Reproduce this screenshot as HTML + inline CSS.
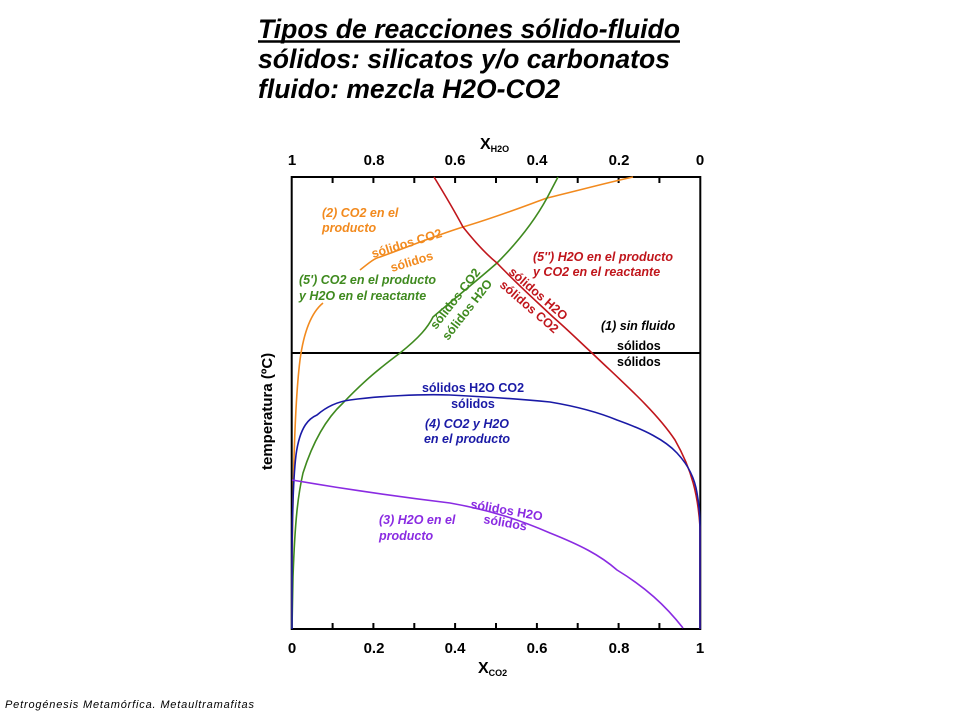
<!DOCTYPE html>
<html><head><meta charset="utf-8"><style>html,body{margin:0;padding:0;background:#fff}svg{display:block}</style></head>
<body>
<svg width="960" height="720" viewBox="0 0 960 720" xmlns="http://www.w3.org/2000/svg" font-family="Liberation Sans, Arial, sans-serif">
<g font-weight="bold" font-style="italic" font-size="27" fill="#000">
<text x="258" y="38" textLength="422" lengthAdjust="spacingAndGlyphs">Tipos de reacciones sólido-fluido</text>
<line x1="258" y1="41.5" x2="680" y2="41.5" stroke="#000" stroke-width="2.5"/>
<text x="258" y="68" textLength="412" lengthAdjust="spacingAndGlyphs">sólidos: silicatos y/o carbonatos</text>
<text x="258" y="98" textLength="302" lengthAdjust="spacingAndGlyphs">fluido: mezcla H2O-CO2</text>
</g>
<rect x="291.7" y="177" width="408.6" height="452" fill="none" stroke="#000" stroke-width="2"/>
<g stroke="#000" stroke-width="2">
<line x1="332.6" y1="177" x2="332.6" y2="183"/><line x1="373.4" y1="177" x2="373.4" y2="183"/><line x1="414.3" y1="177" x2="414.3" y2="183"/><line x1="455.1" y1="177" x2="455.1" y2="183"/><line x1="496" y1="177" x2="496" y2="183"/><line x1="536.9" y1="177" x2="536.9" y2="183"/><line x1="577.7" y1="177" x2="577.7" y2="183"/><line x1="618.6" y1="177" x2="618.6" y2="183"/><line x1="659.4" y1="177" x2="659.4" y2="183"/>
<line x1="332.6" y1="629" x2="332.6" y2="623"/><line x1="373.4" y1="629" x2="373.4" y2="623"/><line x1="414.3" y1="629" x2="414.3" y2="623"/><line x1="455.1" y1="629" x2="455.1" y2="623"/><line x1="496" y1="629" x2="496" y2="623"/><line x1="536.9" y1="629" x2="536.9" y2="623"/><line x1="577.7" y1="629" x2="577.7" y2="623"/><line x1="618.6" y1="629" x2="618.6" y2="623"/><line x1="659.4" y1="629" x2="659.4" y2="623"/>
<line x1="291.7" y1="353" x2="700.3" y2="353"/>
</g>
<g font-weight="bold" font-size="15" text-anchor="middle" fill="#000">
<text x="292" y="165">1</text><text x="374" y="165">0.8</text><text x="455" y="165">0.6</text><text x="537" y="165">0.4</text><text x="619" y="165">0.2</text><text x="700" y="165">0</text>
<text x="292" y="653">0</text><text x="374" y="653">0.2</text><text x="455" y="653">0.4</text><text x="537" y="653">0.6</text><text x="619" y="653">0.8</text><text x="700" y="653">1</text>
</g>
<g font-weight="bold" fill="#000">
<text x="480" y="149" font-size="16">X<tspan font-size="9" dy="3">H2O</tspan></text>
<text x="478" y="673" font-size="16">X<tspan font-size="9" dy="3">CO2</tspan></text>
<text transform="translate(272,470) rotate(-90)" font-size="15">temperatura (ºC)</text>
</g>
<g fill="none" stroke-width="1.6">
<path d="M292,628 C292,600 292,590 292,575 C293,470 295,400 300,360 C304,330 312,312 323,303" stroke="#f28a1e"/>
<path d="M360,270 C370,262 375,258 380,257 C410,246 440,234 463,227 C500,216 530,204 547,198 C580,190 610,182 633,177" stroke="#f28a1e"/>
<path d="M292,628 L293,577 C295,520 298,495 303,473 C315,435 330,415 343,403 C365,380 380,368 400,353 C420,337 428,327 433,317 C460,294 480,278 497,263 C520,240 535,220 547,198 L558,177" stroke="#3f8a1f"/>
<path d="M434,177 C445,195 455,212 463,227 C475,242 487,255 497,263 C515,282 535,300 553,317 C568,330 580,342 592,353 C620,380 655,410 675,440 C692,470 698,495 700,527 L700,629" stroke="#c0161c"/>
<path d="M292,629 L292,573 C292,520 293,480 296,455 C300,425 310,418 317,415 C325,408 335,402 350,400 C380,396 420,394 450,395 C490,397 520,399 550,402 C580,407 600,413 617,420 C645,430 665,440 677,453 C690,467 695,480 697,493 C700,510 700,520 700,533 L700,629" stroke="#1a1aa6"/>
<path d="M292,480 C350,490 400,497 450,503 C490,510 520,520 550,533 C580,545 600,555 617,570 C645,587 665,605 683,628" stroke="#8a2be2"/>
</g>
<g font-weight="bold" font-size="12.5">
<g fill="#f28a1e">
<text x="322" y="217" font-style="italic">(2) CO2 en el</text>
<text x="322" y="232" font-style="italic">producto</text>
<text transform="translate(373,258) rotate(-17)">sólidos CO2</text>
<text transform="translate(392,272) rotate(-17)">sólidos</text>
</g>
<g fill="#3f8a1f">
<text x="299" y="284" font-style="italic">(5') CO2 en el producto</text>
<text x="299" y="300" font-style="italic">y H2O en el reactante</text>
<text transform="translate(436,330) rotate(-52)">sólidos CO2</text>
<text transform="translate(448,341) rotate(-52)">sólidos H2O</text>
</g>
<g fill="#c0161c">
<text x="533" y="261" font-style="italic">(5'') H2O en el producto</text>
<text x="533" y="276" font-style="italic">y CO2 en el reactante</text>
<text transform="translate(508,273) rotate(41)">sólidos H2O</text>
<text transform="translate(499,286) rotate(41)">sólidos CO2</text>
</g>
<g fill="#000">
<text x="601" y="330" font-style="italic">(1) sin fluido</text>
<text x="617" y="350">sólidos</text>
<text x="617" y="366">sólidos</text>
</g>
<g fill="#1a1aa6" text-anchor="middle">
<text x="473" y="392">sólidos H2O CO2</text>
<text x="473" y="408">sólidos</text>
<text x="467" y="428" font-style="italic">(4) CO2 y H2O</text>
<text x="467" y="443" font-style="italic">en el producto</text>
</g>
<g fill="#8a2be2">
<text x="379" y="524" font-style="italic">(3) H2O en el</text>
<text x="379" y="540" font-style="italic">producto</text>
<text transform="translate(470,508) rotate(10)">sólidos H2O</text>
<text transform="translate(483,523) rotate(10)">sólidos</text>
</g>
</g>
<text x="5" y="708" font-size="11" font-style="italic" fill="#000" textLength="249" lengthAdjust="spacing">Petrogénesis  Metamórfica.  Metaultramafitas</text>
</svg>
</body></html>
